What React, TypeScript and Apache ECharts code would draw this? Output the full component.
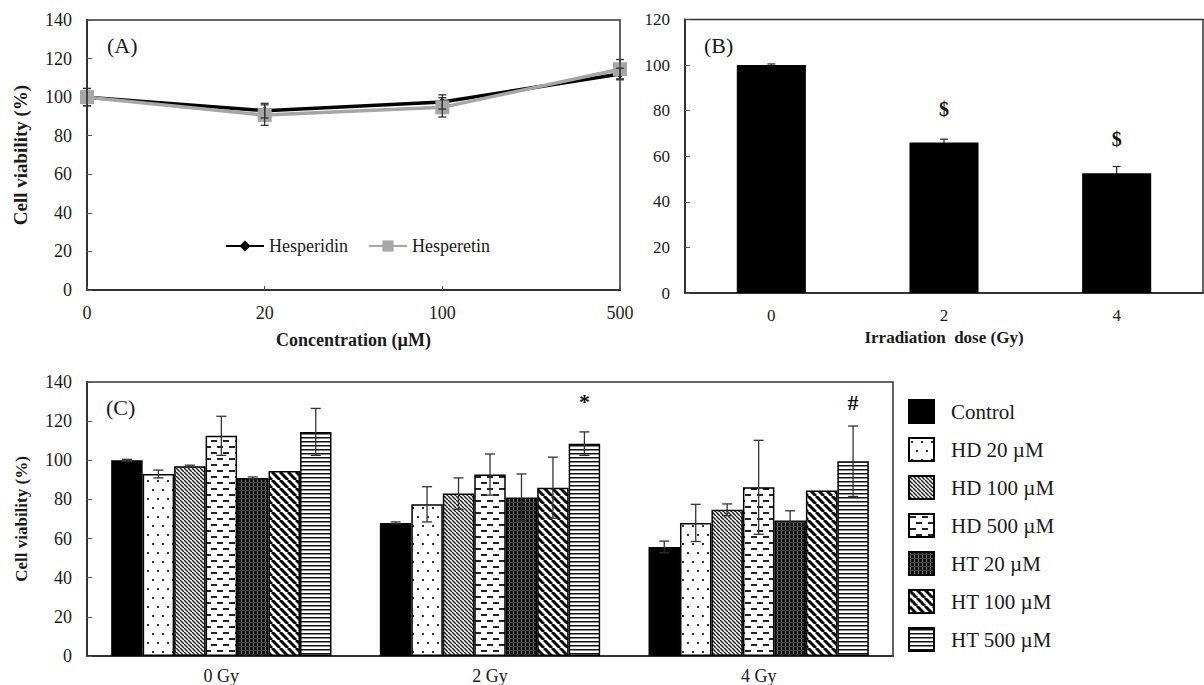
import React, { useEffect, useRef } from 'react';
import * as echarts from 'echarts';

// ---------- Panel A data ----------
const concLabels = ['0', '20', '100', '500'];
const hesperidin = [100, 93, 97.5, 112];
const hesperidinErr = [4.5, 3.8, 3.7, 3];
const hesperetin = [100, 90.7, 94.7, 114.5];
const hesperetinErr = [4.5, 5.3, 5, 5];

// ---------- Panel B data ----------
const doseLabels = ['0', '2', '4'];
const doseViability = [100, 66, 52.5];
const doseErr = [0.5, 1.5, 3];
const doseMarks = ['', '$', '$'];

// ---------- Panel C data ----------
const groupLabels = ['0 Gy', '2 Gy', '4 Gy'];
const treatmentNames = ['Control', 'HD 20 µM', 'HD 100 µM', 'HD 500 µM', 'HT 20 µM', 'HT 100 µM', 'HT 500 µM'];
const controlVals = [100, 68, 55.7];
const controlErr = [0.5, 0.5, 3];
const hd20Vals = [93, 77.5, 68];
const hd20Err = [2, 9, 9.5];
const hd100Vals = [97, 83, 74.7];
const hd100Err = [0.5, 8, 3];
const hd500Vals = [112.5, 92.7, 86.2];
const hd500Err = [10, 10.5, 24];
const ht20Vals = [91, 81, 69.2];
const ht20Err = [0.5, 12, 5];
const ht100Vals = [94.5, 86, 84.5];
const ht100Err = [0, 15.6, 0];
const ht500Vals = [114.5, 108.5, 99.5];
const ht500Err = [12, 6, 18];
const sigMarksC = [
  { group: '2 Gy', treatment: 6, mark: '*', y: 130 },
  { group: '4 Gy', treatment: 6, mark: '#', y: 129.5 },
];

const FONT = 'Liberation Serif';

function makePattern(w: number, h: number, draw: (ctx: CanvasRenderingContext2D) => void): any {
  const c = document.createElement('canvas');
  c.width = w;
  c.height = h;
  const ctx = c.getContext('2d') as CanvasRenderingContext2D;
  draw(ctx);
  return { image: c.toDataURL(), repeat: 'repeat', imageWidth: w, imageHeight: h };
}

function diagPattern(s: number, lw: number, color: string, bg: string) {
  return makePattern(s, s, (ctx) => {
    ctx.fillStyle = bg;
    ctx.fillRect(0, 0, s, s);
    ctx.strokeStyle = color;
    ctx.lineWidth = lw;
    for (const o of [-s, 0, s]) {
      ctx.beginPath();
      ctx.moveTo(o, 0);
      ctx.lineTo(o + s, s);
      ctx.stroke();
    }
  });
}

function buildPatterns() {
  const dots = makePattern(10, 18, (ctx) => {
    ctx.fillStyle = '#fff';
    ctx.fillRect(0, 0, 10, 18);
    ctx.fillStyle = '#333';
    ctx.fillRect(2, 3, 2, 2);
    ctx.fillRect(7, 12, 2, 2);
  });
  const fineDiag = diagPattern(4, 1.5, '#222', '#fff');
  const dashes = makePattern(12, 12, (ctx) => {
    ctx.fillStyle = '#fff';
    ctx.fillRect(0, 0, 12, 12);
    ctx.fillStyle = '#222';
    ctx.fillRect(1, 2, 6, 2);
    ctx.fillRect(7, 8, 6, 2);
    ctx.fillRect(-5, 8, 6, 2);
  });
  const darkGrid = makePattern(4, 4, (ctx) => {
    ctx.fillStyle = '#151515';
    ctx.fillRect(0, 0, 4, 4);
    ctx.fillStyle = '#6a6a6a';
    ctx.fillRect(1, 0, 1, 4);
    ctx.fillStyle = '#444';
    ctx.fillRect(0, 2, 4, 1);
  });
  const boldDiag = diagPattern(8, 3, '#000', '#fff');
  const hLines = makePattern(4, 4, (ctx) => {
    ctx.fillStyle = '#fff';
    ctx.fillRect(0, 0, 4, 4);
    ctx.fillStyle = '#111';
    ctx.fillRect(0, 1, 4, 1.5);
  });
  return ['#000', dots, fineDiag, dashes, darkGrid, boldDiag, hLines];
}

export default function App() {
  const ref = useRef<HTMLDivElement>(null);

  useEffect(() => {
    document.body.style.margin = '0';
    if (!ref.current) return;
    const chart = echarts.init(ref.current, undefined, { renderer: 'svg' });
    const patterns = buildPatterns();

    const cVals = [controlVals, hd20Vals, hd100Vals, hd500Vals, ht20Vals, ht100Vals, ht500Vals];
    const cErrs = [controlErr, hd20Err, hd100Err, hd500Err, ht20Err, ht100Err, ht500Err];
    const nT = treatmentNames.length;
    const catGap = 0.18;

    const axisLineStyle = { color: '#333', width: 2 };
    const labelStyle = { fontFamily: FONT, fontSize: 18, color: '#1a1a1a' };
    const nameStyle = { fontFamily: FONT, fontWeight: 'bold' as const, color: '#1a1a1a' };

    const errA: any[] = [];
    concLabels.forEach((c, i) => {
      errA.push([c, hesperidin[i], hesperidinErr[i]]);
      errA.push([c, hesperetin[i], hesperetinErr[i]]);
    });
    const errB = doseLabels.map((c, i) => [c, doseViability[i], doseErr[i]]);
    const errC: any[] = [];
    groupLabels.forEach((g, gi) => {
      for (let k = 0; k < nT; k++) {
        if (cErrs[k][gi] > 0) errC.push([g, cVals[k][gi], cErrs[k][gi], k]);
      }
    });

    const errorBar = (cap: number, color: string, lw: number, offsetFn?: (api: any, k: number) => number) =>
      (params: any, api: any) => {
        const x = api.value(0);
        const v = api.value(1);
        const e = api.value(2);
        const top = api.coord([x, v + e]);
        const bot = api.coord([x, v - e]);
        let cx = top[0];
        if (offsetFn) cx += offsetFn(api, api.value(3));
        const style = { stroke: color, lineWidth: lw };
        return {
          type: 'group',
          children: [
            { type: 'line', shape: { x1: cx, y1: top[1], x2: cx, y2: bot[1] }, style },
            { type: 'line', shape: { x1: cx - cap, y1: top[1], x2: cx + cap, y2: top[1] }, style },
            { type: 'line', shape: { x1: cx - cap, y1: bot[1], x2: cx + cap, y2: bot[1] }, style },
          ],
        };
      };

    const barOffset = (api: any, k: number) => {
      const band = api.size([1, 0])[0];
      const total = band * (1 - catGap);
      const bw = total / nT;
      return -total / 2 + (k + 0.5) * bw;
    };

    const option: any = {
      animation: false,
      backgroundColor: '#fff',
      textStyle: { fontFamily: FONT },
      grid: [
        { left: 87, right: 584, top: 20, bottom: 395, show: true, borderColor: '#333', borderWidth: 1.5 },
        { left: 685, right: 1, top: 19.5, bottom: 392, show: true, borderColor: '#333', borderWidth: 1.5 },
        { left: 87, right: 311, top: 382, bottom: 28, show: true, borderColor: '#333', borderWidth: 1.5 },
      ],
      legend: [
        {
          data: ['Hesperidin', 'Hesperetin'],
          left: 220,
          top: 232,
          itemWidth: 38,
          itemHeight: 14,
          itemGap: 20,
          textStyle: { fontFamily: FONT, fontSize: 18, color: '#1a1a1a' },
        },
        {
          data: treatmentNames,
          orient: 'vertical',
          left: 908,
          top: 399,
          padding: 0,
          itemWidth: 25,
          itemHeight: 23,
          itemGap: 13,
          icon: 'rect',
          itemStyle: { borderColor: '#000', borderWidth: 2 },
          textStyle: { fontFamily: FONT, fontSize: 21, color: '#1a1a1a', padding: [0, 0, 0, 12] },
        },
      ],
      xAxis: [
        {
          type: 'category',
          gridIndex: 0,
          data: concLabels,
          boundaryGap: false,
          axisLine: { lineStyle: axisLineStyle },
          axisTick: { inside: true, length: 4, lineStyle: { color: '#555' } },
          axisLabel: { ...labelStyle, margin: 14 },
          name: 'Concentration (µM)',
          nameLocation: 'middle',
          nameGap: 41,
          nameTextStyle: { ...nameStyle, fontSize: 18 },
        },
        {
          type: 'category',
          gridIndex: 1,
          data: doseLabels,
          boundaryGap: true,
          axisLine: { lineStyle: axisLineStyle },
          axisTick: { inside: true, length: 4, lineStyle: { color: '#555' } },
          axisLabel: { ...labelStyle, fontSize: 17, margin: 14 },
          name: 'Irradiation  dose (Gy)',
          nameLocation: 'middle',
          nameGap: 36,
          nameTextStyle: { ...nameStyle, fontSize: 17 },
        },
        {
          type: 'category',
          gridIndex: 2,
          data: groupLabels,
          boundaryGap: true,
          axisLine: { lineStyle: axisLineStyle },
          axisTick: { inside: true, length: 4, lineStyle: { color: '#555' } },
          axisLabel: { ...labelStyle, margin: 11 },
        },
      ],
      yAxis: [
        {
          type: 'value',
          gridIndex: 0,
          min: 0,
          max: 140,
          interval: 20,
          splitLine: { show: false },
          axisLine: { show: true, lineStyle: axisLineStyle },
          axisTick: { show: true, inside: true, length: 5, lineStyle: { color: '#555' } },
          axisLabel: { ...labelStyle, margin: 15 },
          name: 'Cell viability (%)',
          nameLocation: 'middle',
          nameGap: 57,
          nameRotate: 90,
          nameTextStyle: { ...nameStyle, fontSize: 19 },
        },
        {
          type: 'value',
          gridIndex: 1,
          min: 0,
          max: 120,
          interval: 20,
          splitLine: { show: false },
          axisLine: { show: true, lineStyle: axisLineStyle },
          axisTick: { show: true, inside: true, length: 5, lineStyle: { color: '#555' } },
          axisLabel: { ...labelStyle, fontSize: 17, margin: 15 },
        },
        {
          type: 'value',
          gridIndex: 2,
          min: 0,
          max: 140,
          interval: 20,
          splitLine: { show: false },
          axisLine: { show: true, lineStyle: axisLineStyle },
          axisTick: { show: true, inside: true, length: 5, lineStyle: { color: '#555' } },
          axisLabel: { ...labelStyle, margin: 15 },
          name: 'Cell viability (%)',
          nameLocation: 'middle',
          nameGap: 57,
          nameRotate: 90,
          nameTextStyle: { ...nameStyle, fontSize: 17 },
        },
      ],
      graphic: [
        { type: 'text', left: 107, top: 34, style: { text: '(A)', font: `22px "${FONT}"`, fill: '#1a1a1a' } },
        { type: 'text', left: 704, top: 34, style: { text: '(B)', font: `22px "${FONT}"`, fill: '#1a1a1a' } },
        { type: 'text', left: 106, top: 396, style: { text: '(C)', font: `22px "${FONT}"`, fill: '#1a1a1a' } },
      ],
      series: [
        {
          name: 'Hesperidin',
          type: 'line',
          xAxisIndex: 0,
          yAxisIndex: 0,
          data: hesperidin,
          symbol: 'diamond',
          symbolSize: 9,
          clip: false,
          z: 3,
          lineStyle: { color: '#000', width: 3.5 },
          itemStyle: { color: '#000' },
        },
        {
          name: 'Hesperetin',
          type: 'line',
          xAxisIndex: 0,
          yAxisIndex: 0,
          data: hesperetin,
          symbol: 'rect',
          symbolSize: 14,
          clip: false,
          z: 4,
          lineStyle: { color: '#a6a6a6', width: 3.5 },
          itemStyle: { color: '#a6a6a6' },
        },
        {
          name: 'errA',
          type: 'custom',
          xAxisIndex: 0,
          yAxisIndex: 0,
          data: errA,
          z: 5,
          clip: false,
          renderItem: errorBar(4, '#333', 1.3),
        },
        {
          name: 'Viability',
          type: 'bar',
          xAxisIndex: 1,
          yAxisIndex: 1,
          data: doseViability,
          barWidth: '40%',
          z: 3,
          itemStyle: { color: '#000' },
          label: {
            show: true,
            position: 'top',
            distance: 24,
            formatter: (p: any) => doseMarks[p.dataIndex],
            fontFamily: FONT,
            fontWeight: 'bold',
            fontSize: 20,
            color: '#111',
          },
        },
        {
          name: 'errB',
          type: 'custom',
          xAxisIndex: 1,
          yAxisIndex: 1,
          data: errB,
          z: 1,
          renderItem: errorBar(4, '#333', 1.3),
        },
        ...treatmentNames.map((name, k) => ({
          name,
          type: 'bar',
          xAxisIndex: 2,
          yAxisIndex: 2,
          data: cVals[k],
          barGap: '0%',
          barCategoryGap: '18%',
          z: 2,
          itemStyle: { color: patterns[k], borderColor: '#000', borderWidth: 1.5 },
        })),
        {
          name: 'errC',
          type: 'custom',
          xAxisIndex: 2,
          yAxisIndex: 2,
          data: errC,
          z: 5,
          renderItem: errorBar(5, '#333', 1.3, barOffset),
        },
        {
          name: 'sigC',
          type: 'custom',
          xAxisIndex: 2,
          yAxisIndex: 2,
          data: sigMarksC.map((s) => [s.group, s.y, s.treatment]),
          z: 6,
          renderItem: (params: any, api: any) => {
            const p = api.coord([api.value(0), api.value(1)]);
            const cx = p[0] + barOffset(api, api.value(2));
            return {
              type: 'text',
              x: cx,
              y: p[1],
              style: {
                text: sigMarksC[params.dataIndex].mark,
                font: `bold 22px "${FONT}"`,
                fill: '#111',
                align: 'center',
                verticalAlign: 'middle',
              },
            };
          },
        },
      ],
    };

    chart.setOption(option);
    return () => chart.dispose();
  }, []);

  return <div ref={ref} style={{ width: 1204, height: 685 }} />;
}
